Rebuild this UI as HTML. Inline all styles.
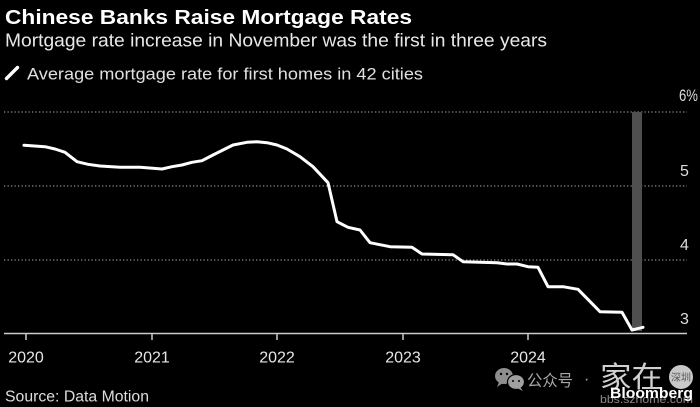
<!DOCTYPE html>
<html>
<head>
<meta charset="utf-8">
<style>
  html, body { margin: 0; padding: 0; background: #000; }
  body { width: 700px; height: 407px; overflow: hidden; }
  svg { display: block; }
  text { font-family: "Liberation Sans", "Noto Sans CJK SC", sans-serif; }
</style>
</head>
<body>
<svg width="700" height="407" viewBox="0 0 700 407" xmlns="http://www.w3.org/2000/svg">
  <rect x="0" y="0" width="700" height="407" fill="#000"/>

  <!-- Title / subtitle / legend -->
  <text x="5" y="24" fill="#ffffff" font-size="20.5" font-weight="bold" textLength="407" lengthAdjust="spacingAndGlyphs">Chinese Banks Raise Mortgage Rates</text>
  <text x="5" y="46.7" fill="#e8e8e8" font-size="18.5" textLength="542" lengthAdjust="spacingAndGlyphs">Mortgage rate increase in November was the first in three years</text>
  <line x1="6.5" y1="78.5" x2="17.5" y2="67.5" stroke="#ffffff" stroke-width="3.4" stroke-linecap="round"/>
  <text x="27" y="79.3" fill="#e0e0e0" font-size="17" textLength="396" lengthAdjust="spacingAndGlyphs">Average mortgage rate for first homes in 42 cities</text>

  <!-- Gridlines -->
  <g stroke="#8c8c8c" stroke-width="1.3" stroke-dasharray="1.3 2.2">
    <line x1="4" y1="112" x2="687" y2="112"/>
    <line x1="4" y1="186" x2="687" y2="186"/>
    <line x1="4" y1="260" x2="687" y2="260"/>
  </g>

  <!-- Y labels -->
  <g fill="#dddddd" font-size="16">
    <text x="679" y="101" font-size="17" textLength="19" lengthAdjust="spacingAndGlyphs">6%</text>
    <text x="680" y="176">5</text>
    <text x="680" y="250">4</text>
    <text x="680" y="324">3</text>
  </g>

  <!-- Highlight bar -->
  <rect x="632" y="112" width="10" height="219" fill="#4f4f4f"/>

  <!-- Axis -->
  <line x1="4" y1="333.5" x2="687" y2="333.5" stroke="#cccccc" stroke-width="1.5"/>
  <g stroke="#cccccc" stroke-width="1.5">
    <line x1="26" y1="333.5" x2="26" y2="340"/>
    <line x1="152" y1="333.5" x2="152" y2="340"/>
    <line x1="277" y1="333.5" x2="277" y2="340"/>
    <line x1="403" y1="333.5" x2="403" y2="340"/>
    <line x1="528" y1="333.5" x2="528" y2="340"/>
  </g>
  <g fill="#e6e6e6" font-size="16" text-anchor="middle">
    <text x="26" y="362.5">2020</text>
    <text x="152" y="362.5">2021</text>
    <text x="277" y="362.5">2022</text>
    <text x="403" y="362.5">2023</text>
    <text x="528" y="362.5">2024</text>
  </g>

  <!-- Data line -->
  <path d="M24,145.3 L45,146.7 L55,149 L65,152.3 L77,161.7 L88,164.3 L100,166 L120,167.3 L140,167.3 L162,169 L172,166.7 L182,165 L192,162.3 L202,160.7 L213,155 L233,145 L247,142.3 L257,141.7 L267,142.7 L277,145 L287,149 L300,156.7 L313,166.7 L328,182.7 L337,221.7 L348,227.3 L360,230 L370,242.7 L390,246.7 L412,247.3 L422,254 L453,254.7 L463,261.7 L497,262.7 L507,264 L517,264 L528,266.7 L538,267.3 L548,286.7 L563,286.7 L578,289.3 L600,311.7 L622,312.3 L632,330 L643,327.3"
        fill="none" stroke="#ffffff" stroke-width="3" stroke-linejoin="round" stroke-linecap="round"/>

  <!-- Source -->
  <text x="5" y="401.7" fill="#dddddd" font-size="15.5" textLength="144" lengthAdjust="spacingAndGlyphs">Source: Data Motion</text>

  <!-- Watermark -->
  <g fill="#8e8e8e">
    <ellipse cx="504" cy="376" rx="9" ry="8"/>
    <path d="M499,382 L497,387 L503,383 Z"/>
  </g>
  <g fill="#a0a0a0" stroke="#000" stroke-width="1.2">
    <ellipse cx="516" cy="382" rx="8.5" ry="7.5"/>
  </g>
  <path d="M520,387 L523,391 L517,388 Z" fill="#a0a0a0"/>
  <g fill="#000">
    <circle cx="501" cy="374" r="1.2"/>
    <circle cx="507" cy="374" r="1.2"/>
    <circle cx="513" cy="381" r="1"/>
    <circle cx="519" cy="381" r="1"/>
  </g>
  <text x="527" y="386" fill="#a8a8a8" font-size="16" textLength="46" lengthAdjust="spacingAndGlyphs">公众号</text>
  <text x="584" y="384" fill="#a8a8a8" font-size="16">·</text>
  <text x="600" y="387" fill="#d0d0d0" font-size="29" textLength="63" lengthAdjust="spacingAndGlyphs">家在</text>
  <circle cx="681" cy="377" r="12" fill="#c8c8c8"/>
  <text x="681" y="381" fill="#555" font-size="10" text-anchor="middle">深圳</text>
  <text x="600" y="403" fill="#8a8a8a" font-size="11" textLength="93" lengthAdjust="spacingAndGlyphs">bbs.szhome.com</text>
  <text x="610" y="398" fill="#ffffff" font-size="15" font-weight="bold" textLength="83" lengthAdjust="spacingAndGlyphs">Bloomberg</text>
</svg>
</body>
</html>
